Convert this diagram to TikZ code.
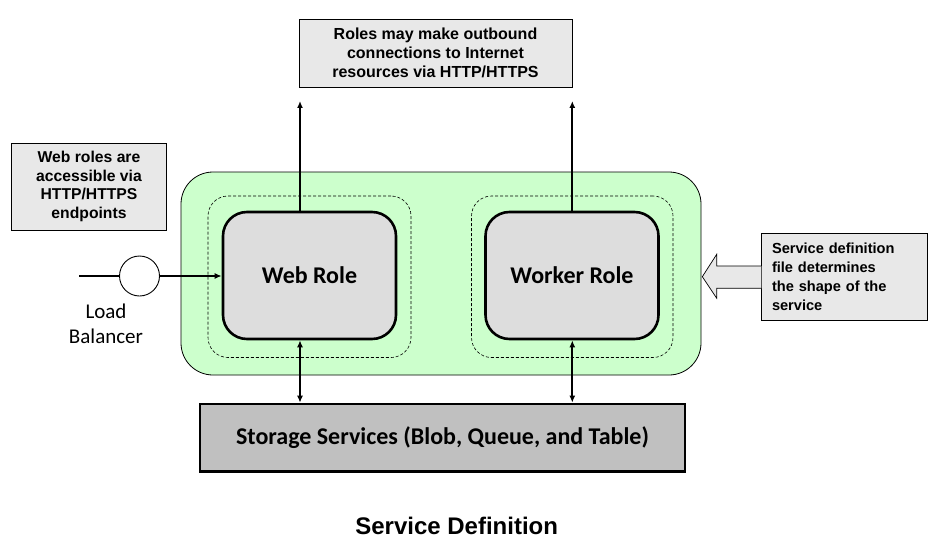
\documentclass[tikz,border=0pt]{standalone}
\usepackage{fontspec}
\setmainfont{Liberation Sans}
\newfontfamily\calib{Carlito}
\usetikzlibrary{arrows.meta,calc}
\definecolor{greenbg}{HTML}{CCFFCC}
\definecolor{rolegray}{HTML}{DDDDDD}
\definecolor{storgray}{HTML}{C0C0C0}
\definecolor{notegray}{HTML}{E8E8E8}
\begin{document}
\begin{tikzpicture}[x=1pt,y=-1pt,
  note/.style={draw, line width=0.8pt, fill=notegray, inner sep=0pt, align=center,
    font=\fontsize{16}{19.3}\selectfont\bfseries},
  rolebox/.style={draw, line width=2.6pt, fill=rolegray, rounded corners=24pt,
    minimum width=173pt, minimum height=127pt, font=\calib\fontsize{24}{28}\selectfont\bfseries},
  dashbox/.style={draw, dashed, line width=0.6pt, rounded corners=20pt, dash pattern=on 3pt off 2pt},
  arr/.style={line width=1.8pt, -{Latex[length=7pt,width=6pt]}},
  darr/.style={line width=1.8pt, {Latex[length=7pt,width=6pt]}-{Latex[length=7pt,width=6pt]}}
]
\useasboundingbox (0,0) rectangle (933,559);
\fill[white] (0,0) rectangle (933,559);

% green service box
\node[draw, line width=0.8pt, fill=greenbg, rounded corners=32pt,
  minimum width=520pt, minimum height=203pt] (svc) at (441,273.5) {};
\node[dashbox, minimum width=203pt, minimum height=161.5pt] (wdash) at (309.5,276.75) {};
\node[dashbox, minimum width=201.5pt, minimum height=161.5pt] (kdash) at (572.25,276.75) {};

% roles
\node[rolebox] (web) at (309.5,275.5) {Web Role};
\node[rolebox] (wrk) at (572,275.5) {Worker Role};

% storage
\node[draw, line width=2.6pt, fill=storgray, minimum width=485pt, minimum height=67.5pt,
  font=\calib\fontsize{24}{28}\selectfont\bfseries] (stor) at (442.5,437.75)
  {Storage Services (Blob, Queue, and Table)};

% top note
\node[note, minimum width=273pt, minimum height=68pt] (top) at (435.5,53)
  {Roles may make outbound\\connections to Internet\\resources via HTTP/HTTPS};
\coordinate (wup) at (300,101);
\coordinate (kup) at (572.3,101);
\draw[arr] (web.north -| wup) -- (wup);
\draw[arr] (wrk.north -| kup) -- (kup);

% storage arrows
\draw[darr] (stor.north -| wup) -- (web.south -| wup);
\draw[darr] (stor.north -| kup) -- (wrk.south -| kup);

% left note
\node[note, minimum width=155pt, minimum height=87pt,
  font=\fontsize{15.7}{18.5}\selectfont\bfseries] (left) at (89,186.5)
  {Web roles are\\accessible via\\HTTP/HTTPS\\endpoints};

% load balancer
\node[draw, circle, line width=0.9pt, fill=white, minimum size=40pt, inner sep=0pt] (lb) at (139.5,276) {};
\coordinate (lbin) at (79,276);
\draw[line width=1.8pt] (lbin) -- (lb.west);
\draw[arr] (lb.east) -- (web.west |- lb);
\node[align=center, font=\calib\fontsize{21}{24.5}\selectfont] (lbl) at (106,324) {Load\\Balancer};

% right note
\node[note, align=left, minimum width=165.6pt, minimum height=87.4pt, text width=145pt,
  inner xsep=10pt, font=\fontsize{14.6}{19}\selectfont\bfseries] (right) at (844.5,277)
  {Service definition\\file determines\\the shape of the\\service};
\draw[line width=0.7pt, fill=notegray]
  (right.west |- 0,266) -- (716.7,266) -- (716.7,254.3) -- (702.3,276.7)
  -- (716.7,298.3) -- (716.7,288.3) -- (right.west |- 0,288.3);

% title
\node[font=\fontsize{24}{28}\selectfont\bfseries] (title) at (456.7,526) {Service Definition};
\end{tikzpicture}
\end{document}
